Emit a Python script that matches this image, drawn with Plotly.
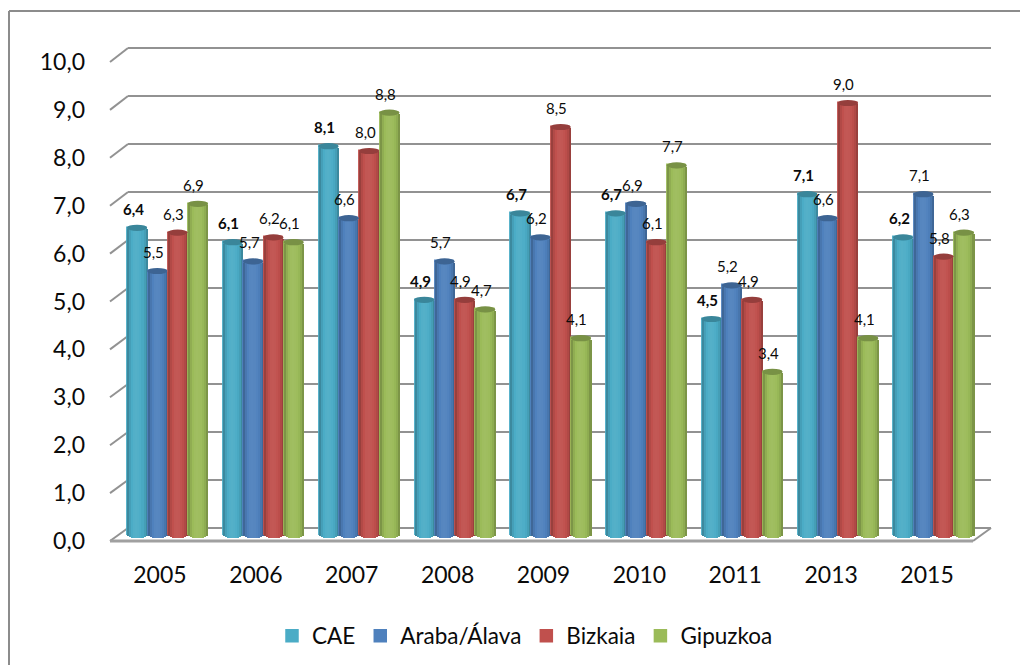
import plotly.graph_objects as go

years = ["2005", "2006", "2007", "2008", "2009", "2010", "2011", "2013", "2015"]
cae = [6.4, 6.1, 8.1, 4.9, 6.7, 6.7, 4.5, 7.1, 6.2]
araba = [5.5, 5.7, 6.6, 5.7, 6.2, 6.9, 5.2, 6.6, 7.1]
bizkaia = [6.3, 6.2, 8.0, 4.9, 8.5, 6.1, 4.9, 9.0, 5.8]
gipuzkoa = [6.9, 6.1, 8.8, 4.7, 4.1, 7.7, 3.4, 4.1, 6.3]
series_names = ["CAE", "Araba/Álava", "Bizkaia", "Gipuzkoa"]
series_values = [cae, araba, bizkaia, gipuzkoa]
series_colors = ["#4BACC6", "#4F81BD", "#C0504D", "#9BBB59"]
series_bold = [True, False, False, False]

W, H = 1020, 665
FONT = "Lato"
TEXT = "#0A0A0A"
GRID = "#929292"
pos = list(range(len(years)))


def hx(px_left, px_right):
    return [px_left / W, px_right / W]


def vy(px_bottom, px_top):
    return [(H - px_bottom) / H, (H - px_top) / H]


def shade(color, f):
    r, g, b = (int(color[i:i + 2], 16) for i in (1, 3, 5))
    if f <= 1:
        r, g, b = r * f, g * f, b * f
    else:
        r, g, b = r + (255 - r) * (f - 1), g + (255 - g) * (f - 1), b + (255 - b) * (f - 1)
    return f"rgb({int(r)},{int(g)},{int(b)})"


STRIP_SHADES = [0.8, 0.93, 1.0, 1.04, 1.05, 1.04, 1.02, 0.98, 0.92, 0.8]
BAR_W = 20.3 / 95.75
N = len(STRIP_SHADES)
CAP_H = 0.065

fig = go.Figure()

# back wall grid carrier
fig.add_trace(go.Scatter(x=[0], y=[0], mode="markers", marker=dict(opacity=0, size=1),
                         xaxis="x", yaxis="y", showlegend=False, hoverinfo="skip"))
# front plane axis-label carrier
fig.add_trace(go.Scatter(x=[0], y=[0], mode="markers", marker=dict(opacity=0, size=1),
                         xaxis="x3", yaxis="y3", showlegend=False, hoverinfo="skip"))

shapes = []
annotations = []

for s, (name, vals, col, bold) in enumerate(zip(series_names, series_values, series_colors, series_bold)):
    left = (s - 2) * BAR_W
    fig.add_trace(go.Bar(x=pos, y=vals, name=name, offset=left + 0.01, width=BAR_W - 0.02,
                         marker=dict(color=col, line=dict(color=col, width=1.5)),
                         xaxis="x2", yaxis="y2", hoverinfo="skip"))
    for k, f in enumerate(STRIP_SHADES):
        t = (k + 0.5) / N
        sag = CAP_H * (1 - (2 * t - 1) ** 2) ** 0.5
        fig.add_trace(go.Bar(x=pos, y=vals, base=[-sag] * len(vals),
                             offset=left + k * BAR_W / N, width=BAR_W / N,
                             marker=dict(color=shade(col, f), line=dict(width=0)),
                             xaxis="x2", yaxis="y2", showlegend=False, hoverinfo="skip"))
    for i, v in zip(pos, vals):
        shapes.append(dict(type="circle", xref="x2", yref="y2", layer="above",
                           x0=i + left, x1=i + left + BAR_W, y0=v - CAP_H, y1=v + CAP_H,
                           fillcolor=shade(col, 0.78), line=dict(width=0)))
        label = f"{v:.1f}".replace(".", ",")
        annotations.append(dict(xref="x2", yref="y2", x=i + left + BAR_W / 2, y=v,
                                xshift=-4, yshift=19, showarrow=False,
                                text=f"<b>{label}</b>" if bold else label,
                                font=dict(family=FONT, size=15, color=TEXT)))

# perspective edges of the wall and floor, plus outer frame
for v in range(11):
    yf = 541 - 47.9 * v
    yb = 528 - 48 * v
    shapes.append(dict(type="line", xref="paper", yref="paper", layer="below",
                       x0=110 / W, x1=128 / W, y0=(H - yf) / H, y1=(H - yb) / H,
                       line=dict(color=GRID, width=2)))
shapes.append(dict(type="line", xref="paper", yref="paper", layer="below",
                   x0=110 / W, x1=973 / W, y0=(H - 541) / H, y1=(H - 541) / H,
                   line=dict(color="#A0A0A0", width=3)))
shapes.append(dict(type="line", xref="paper", yref="paper", layer="below",
                   x0=973 / W, x1=991 / W, y0=(H - 541) / H, y1=(H - 528) / H,
                   line=dict(color=GRID, width=2)))
shapes.append(dict(type="line", xref="paper", yref="paper", layer="below",
                   x0=9 / W, x1=9 / W, y0=0, y1=(H - 11) / H, line=dict(color="#8C8C8C", width=2)))
shapes.append(dict(type="line", xref="paper", yref="paper", layer="below",
                   x0=9 / W, x1=1, y0=(H - 11) / H, y1=(H - 11) / H, line=dict(color="#8C8C8C", width=2)))

fig.update_layout(
    width=W, height=H, margin=dict(l=0, r=0, t=0, b=0, pad=0, autoexpand=False),
    paper_bgcolor="white", plot_bgcolor="rgba(0,0,0,0)",
    barmode="overlay", separators=",.", bargap=0,
    font=dict(family=FONT, color=TEXT),
    shapes=shapes, annotations=annotations,
    legend=dict(orientation="h", x=272 / W, xanchor="left", y=(H - 636) / H, yanchor="middle",
                font=dict(family=FONT, size=22.5, color=TEXT), bgcolor="rgba(0,0,0,0)",
                itemclick=False, itemdoubleclick=False),
    # back wall (range padded so the 0 and 10 gridlines are drawn)
    xaxis=dict(domain=hx(128, 991), range=[-0.5, 8.5], visible=False, fixedrange=True),
    yaxis=dict(domain=vy(540, 36), range=[-0.25, 10.25], tick0=0, dtick=1, showgrid=True, gridcolor=GRID, gridwidth=2,
               zeroline=False, showticklabels=False, showline=False, ticks="", fixedrange=True),
    # bars
    xaxis2=dict(domain=hx(119.6, 981.4), range=[-0.5, 8.5], visible=False, anchor="y2", fixedrange=True),
    yaxis2=dict(domain=vy(559, 55), range=[-0.5, 10], visible=False, anchor="x2", fixedrange=True),
    # front plane labels
    xaxis3=dict(domain=hx(112, 975), range=[-0.5, 8.5], anchor="y3", tickmode="array", tickvals=pos,
                ticktext=years, showgrid=False, zeroline=False, showline=False, ticks="",
                ticklabelstandoff=18, tickfont=dict(family=FONT, size=23, color=TEXT), fixedrange=True),
    yaxis3=dict(domain=vy(541, 62), range=[0, 10], anchor="x3", dtick=1, tickformat=".1f",
                showgrid=False, zeroline=False, showline=False, ticks="",
                ticklabelstandoff=26, tickfont=dict(family=FONT, size=23, color=TEXT), fixedrange=True),
)

fig.write_html("out.html", config=dict(displayModeBar=False),
               post_script="document.body.style.margin='0';")
